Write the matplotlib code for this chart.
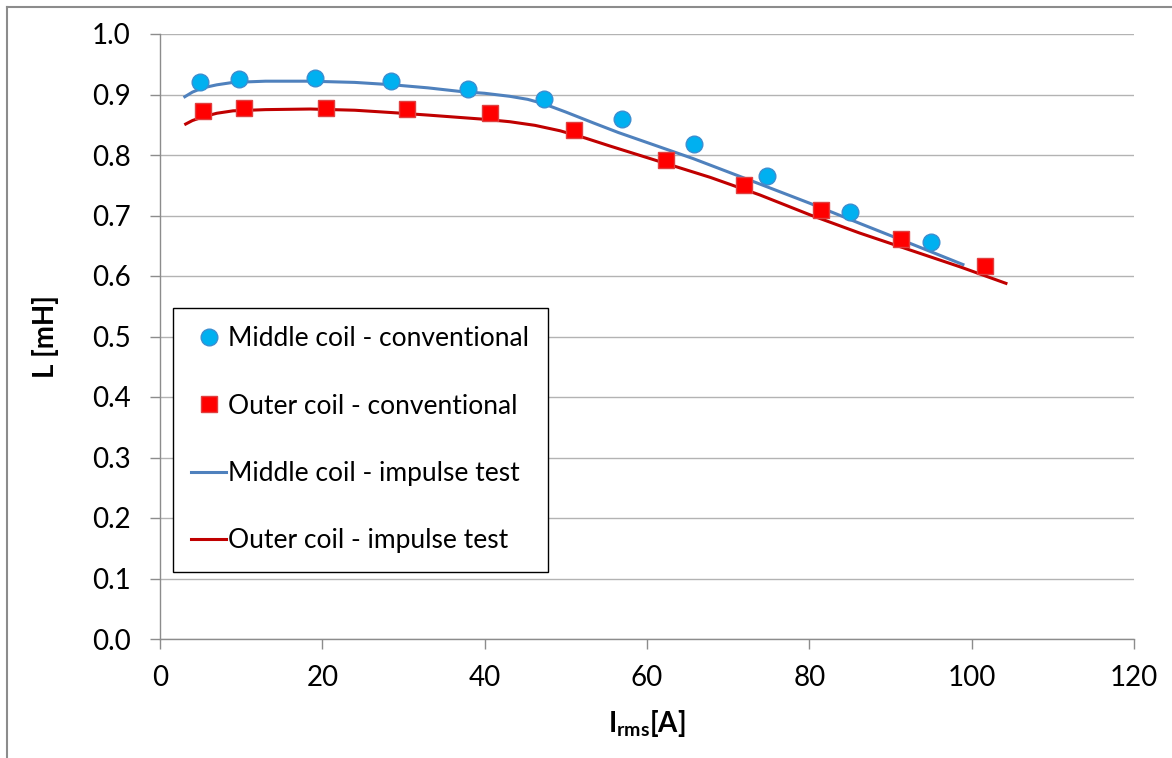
import matplotlib
matplotlib.use("Agg")
import matplotlib.pyplot as plt
from matplotlib.lines import Line2D

plt.rcParams["font.family"] = ["Lato", "DejaVu Sans"]
plt.rcParams["mathtext.fontset"] = "custom"
plt.rcParams["mathtext.bf"] = "Lato:bold"
plt.rcParams["mathtext.rm"] = "Lato"

# conventional measurements (markers)
mid_conv_i = [4.9, 9.7, 19.1, 28.5, 38.0, 47.3, 56.9, 65.8, 74.8, 85.0, 95.0]
mid_conv_l = [0.921, 0.926, 0.927, 0.923, 0.909, 0.893, 0.860, 0.819, 0.765, 0.705, 0.656]
out_conv_i = [5.3, 10.4, 20.5, 30.4, 40.6, 51.0, 62.3, 72.0, 81.4, 91.3, 101.7]
out_conv_l = [0.873, 0.878, 0.878, 0.876, 0.869, 0.841, 0.791, 0.750, 0.709, 0.661, 0.617]

# impulse test (lines)
mid_imp_i = [2.9, 4.0, 5.3, 7.0, 9.0, 13.0, 18.5, 24.0, 28.7, 33.0, 37.0, 40.0, 43.1,
             45.3, 47.2, 50.0, 53.4, 56.5, 59.5, 65.7, 73.9, 80.1, 86.2, 92.4, 99.1]
mid_imp_l = [0.895, 0.904, 0.911, 0.916, 0.920, 0.922, 0.922, 0.920, 0.916, 0.911, 0.905, 0.902, 0.897,
             0.892, 0.885, 0.871, 0.853, 0.837, 0.823, 0.794, 0.752, 0.720, 0.687, 0.654, 0.618]
out_imp_i = [3.0, 4.0, 5.3, 7.0, 9.0, 13.0, 18.5, 24.0, 28.7, 33.0, 37.0, 40.0, 43.1,
             46.2, 49.3, 52.4, 55.4, 61.6, 67.8, 73.9, 80.1, 86.2, 92.4, 98.6, 104.4]
out_imp_l = [0.850, 0.857, 0.863, 0.869, 0.873, 0.875, 0.876, 0.874, 0.870, 0.866, 0.862, 0.859, 0.855,
             0.849, 0.840, 0.828, 0.815, 0.789, 0.763, 0.734, 0.701, 0.671, 0.643, 0.615, 0.587]

x_ticks = [0, 20, 40, 60, 80, 100, 120]
y_ticks = [0.0, 0.1, 0.2, 0.3, 0.4, 0.5, 0.6, 0.7, 0.8, 0.9, 1.0]

GRID = "#b3b3b3"
AXIS = "#8c8c8c"

fig = plt.figure(figsize=(11.72, 7.58), dpi=100)
ax = fig.add_axes([160 / 1172, 1 - 639 / 758, 974 / 1172, 605 / 758])

ax.plot(mid_imp_i, mid_imp_l, color="#4f81bd", lw=2.2, zorder=3,
        solid_capstyle="butt")
ax.plot(out_imp_i, out_imp_l, color="#c00000", lw=2.2, zorder=3,
        solid_capstyle="butt")
ax.plot(mid_conv_i, mid_conv_l, "o", ms=12, mfc="#00b0f0", mec="#3b8ed0",
        mew=1.0, ls="none", zorder=4)
ax.plot(out_conv_i, out_conv_l, "s", ms=11.5, mfc="#ff0000", mec="#e04040",
        mew=1.0, ls="none", zorder=4)

ax.set_xlim(0, 120)
ax.set_ylim(0, 1.0)
ax.set_xticks(x_ticks)
ax.set_yticks(y_ticks)
ax.set_yticklabels([f"{v:.1f}" for v in y_ticks])
ax.grid(axis="y", color=GRID, lw=1.0)
ax.set_axisbelow(True)
for s in ("top", "right"):
    ax.spines[s].set_visible(False)
for s in ("left", "bottom"):
    ax.spines[s].set_color(AXIS)
    ax.spines[s].set_linewidth(1.0)
ax.tick_params(axis="both", direction="out", length=7, color=AXIS,
               labelsize=20, width=1.0)
ax.tick_params(axis="x", pad=12)
ax.tick_params(axis="y", pad=14)

ax.set_ylabel("L [mH]", fontsize=20, fontweight="bold", labelpad=24)
ax.set_xlabel(r"$\mathbf{I_{rms}}$[A]", fontsize=20, fontweight="bold",
              labelpad=12)

handles = [
    Line2D([], [], marker="o", ms=12, mfc="#00b0f0", mec="#3b8ed0", ls="none"),
    Line2D([], [], marker="s", ms=11.5, mfc="#ff0000", mec="#e04040", ls="none"),
    Line2D([], [], color="#4f81bd", lw=2.2),
    Line2D([], [], color="#c00000", lw=2.2),
]
labels = ["Middle coil - conventional", "Outer coil - conventional",
          "Middle coil - impulse test", "Outer coil - impulse test"]
leg = ax.legend(handles, labels, loc="upper left",
                bbox_to_anchor=(13 / 974, (639 - 308) / 605),
                borderaxespad=0, fontsize=19, frameon=True, fancybox=False,
                edgecolor="black", framealpha=1, labelspacing=1.6,
                handlelength=1.3, handletextpad=0.1, borderpad=0.7)
leg.get_frame().set_linewidth(1.0)

# chart area border (top and left edges visible)
fig.add_artist(Line2D([7 / 1172, 7 / 1172], [0, 1 - 7 / 758],
                      color="#8c8c8c", lw=1.5, transform=fig.transFigure))
fig.add_artist(Line2D([7 / 1172, 1], [1 - 7 / 758, 1 - 7 / 758],
                      color="#8c8c8c", lw=1.5, transform=fig.transFigure))

fig.savefig("out.png", dpi=100, facecolor="white")
